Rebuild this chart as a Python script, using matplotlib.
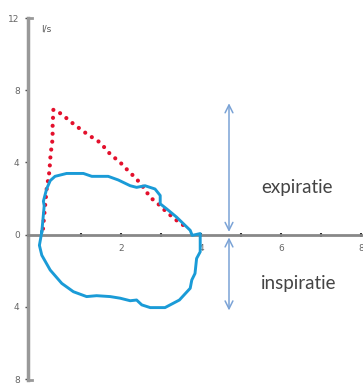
import matplotlib
matplotlib.use("Agg")
import matplotlib.pyplot as plt

# flow-volume loop (volume in l, flow in l/s)
red_x = [0.05, 0.14, 0.21, 0.24, 0.29, 0.29, 0.31, 0.5, 0.83, 1.16, 1.48, 1.73, 1.98,
         2.14, 2.39, 2.56, 2.73, 2.93, 3.14, 3.39, 3.68]
red_y = [0.33, 2.5, 3.5, 4.45, 5.3, 6.0, 6.93, 6.7, 6.1, 5.56, 5.1, 4.46, 4.0,
         3.63, 3.08, 2.62, 2.07, 1.7, 1.25, 0.79, 0.33]

blue_x = [0.02, 0.08, 0.06, 0.14, 0.23, 0.35, 0.64, 1.06, 1.27, 1.68, 1.93, 2.23, 2.39,
          2.6, 2.85, 2.98, 2.98, 3.14, 3.39, 3.73, 3.78, 3.98, 3.98, 3.89, 3.85, 3.77,
          3.73, 3.46, 3.1, 2.73, 2.52, 2.39, 2.23, 1.98, 1.73, 1.39, 1.14, 0.81, 0.52,
          0.23, 0.02, -0.04, 0.02]
blue_y = [0.15, 1.6, 1.85, 2.53, 2.99, 3.23, 3.39, 3.39, 3.23, 3.23, 3.03, 2.71, 2.62,
          2.71, 2.53, 2.17, 1.71, 1.43, 0.97, 0.24, -0.04, 0.06, -0.95, -1.32, -2.15, -2.51,
          -2.97, -3.62, -4.04, -4.04, -3.89, -3.62, -3.66, -3.52, -3.43, -3.38, -3.43, -3.16, -2.7,
          -1.96, -1.14, -0.59, 0.15]

yticks = [12, 8, 4, 0, -4, -8]
ytick_labels = ["12", "8", "4", "0", "4", "8"]
xticks = [1, 2, 3, 4, 5, 6, 7, 8]
xtick_labels = ["", "2", "", "4", "", "6", "", "8"]

fig = plt.figure(figsize=(3.63, 3.83), dpi=100)
ax = fig.add_axes([28 / 363, 3 / 383, 335 / 363, 362 / 383])
ax.set_xlim(-0.325, 8.05)
ax.set_ylim(-8.05, 12)

ax.plot(red_x, red_y, color="#e3102c", lw=3.0, linestyle=(0, (0.01, 1.9)),
        dash_capstyle="round", zorder=3)
ax.plot(blue_x, blue_y, color="#1a9bd7", lw=2.1, zorder=4)

# arrows
ax.annotate("", xy=(4.7, 7.43), xytext=(4.7, 0.0),
            arrowprops=dict(arrowstyle="<->", color="#7ba3d6", lw=1.1, mutation_scale=14))
ax.annotate("", xy=(4.7, -4.35), xytext=(4.7, 0.0),
            arrowprops=dict(arrowstyle="<->", color="#7ba3d6", lw=1.1, mutation_scale=14))

ax.text(6.4, 2.6, "expiratie", ha="center", va="center", fontsize=13.5,
        family="Lato", color="#444444")
ax.text(6.45, -2.7, "inspiratie", ha="center", va="center", fontsize=13.5,
        family="Lato", color="#444444")
ax.text(0.0, 11.4, "l/s", ha="left", va="center", fontsize=6.5, color="#555555")

ax.spines["top"].set_visible(False)
ax.spines["right"].set_visible(False)
ax.spines["bottom"].set_position(("data", 0))
ax.spines["bottom"].set_color("#888888")
ax.spines["bottom"].set_linewidth(2)
ax.spines["left"].set_color("#999999")
ax.spines["left"].set_linewidth(2.5)

# little hooks at the ends of the y axis
ax.plot([0, 0.012], [1, 1], transform=ax.transAxes, color="#999999", lw=2, clip_on=False)
ax.plot([0, 0.012], [0, 0], transform=ax.transAxes, color="#999999", lw=2, clip_on=False)

ax.set_yticks(yticks)
ax.set_yticklabels(ytick_labels)
ax.set_xticks(xticks)
ax.set_xticklabels(xtick_labels)
ax.tick_params(axis="y", length=2, width=1, color="#444444", labelsize=6.5,
               labelcolor="#666666", pad=4)
ax.tick_params(axis="x", direction="inout", length=3, width=1.5, color="#333333",
               labelsize=6.5, labelcolor="#666666", pad=5)

fig.savefig("out.png", dpi=100)
